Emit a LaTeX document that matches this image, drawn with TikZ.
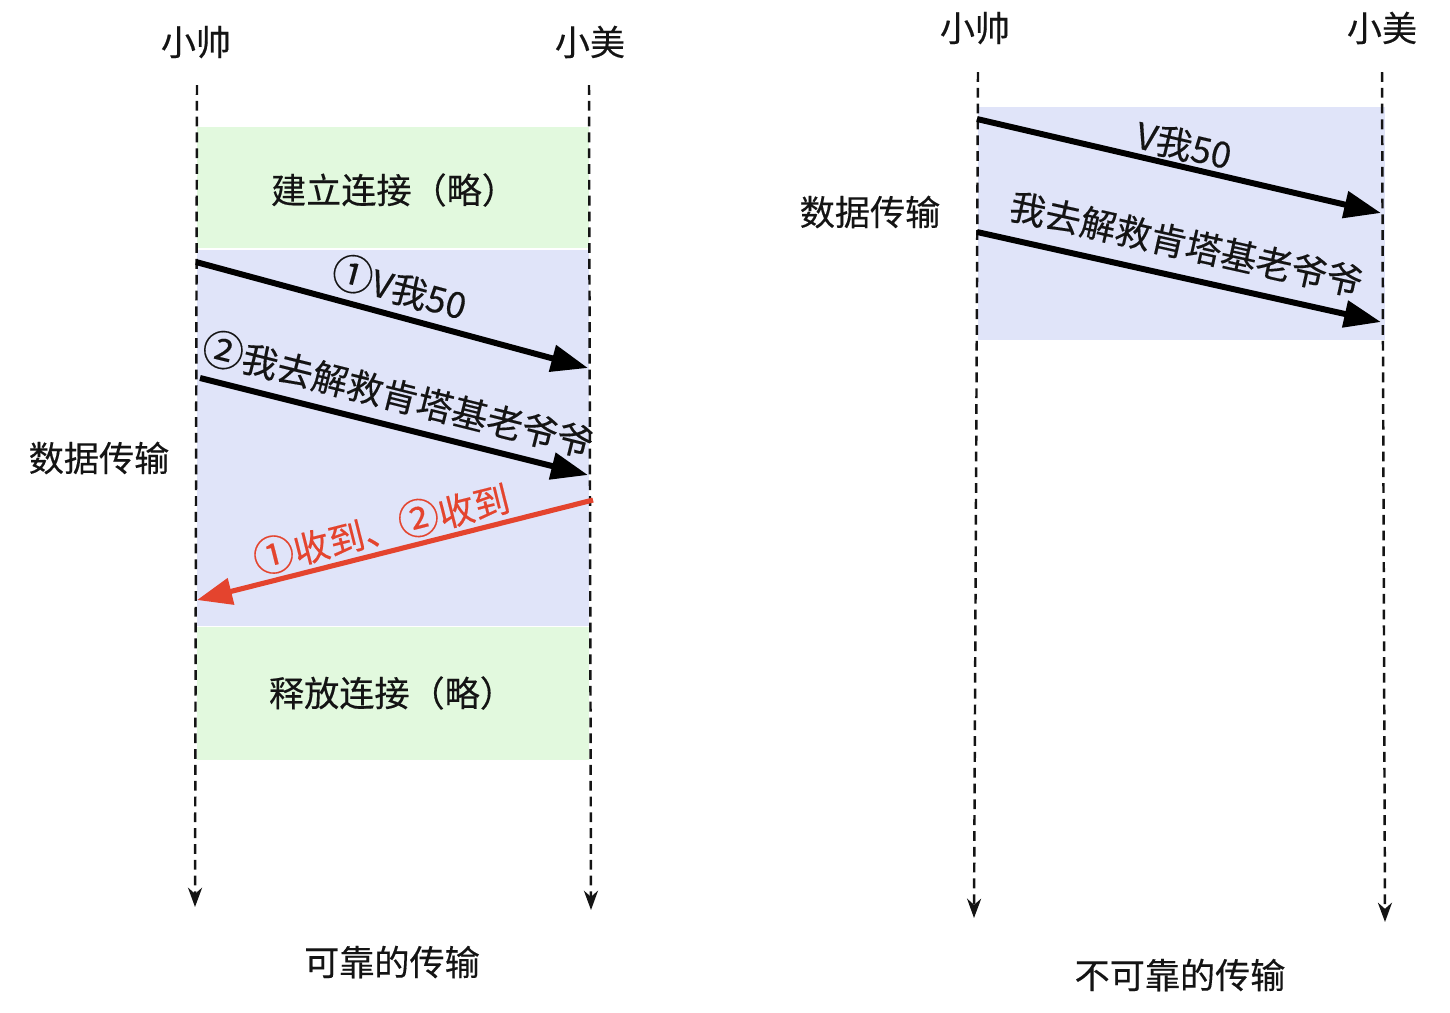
\documentclass[tikz,border=0pt]{standalone}
\usepackage{fontspec}
\setmainfont{Noto Sans CJK SC}[UprightFeatures={FakeBold=0.3}]
\usetikzlibrary{arrows.meta}
\definecolor{boxgreen}{RGB}{226,249,222}
\definecolor{boxblue}{RGB}{224,228,249}
\definecolor{ackred}{RGB}{228,68,46}
\definecolor{ink}{RGB}{20,20,20}
\newcommand{\cnum}[1]{{\fontsize{23.5pt}{24pt}\selectfont #1}}
\tikzset{
  txt/.style={inner sep=0pt, text=ink, font=\fontsize{20pt}{24pt}\selectfont},
  lifeline/.style={draw=ink, line width=1.4pt, dash pattern=on 5.6pt off 3.4pt, -{Stealth[length=11pt,width=8pt,inset=3.5pt]}},
  msg/.style={draw=black, line width=3.4pt, -{Triangle[length=21pt,width=15pt]}},
  ack/.style={draw=ackred, line width=2.9pt, -{Triangle[length=20pt,width=15pt]}},
  lbl/.style={sloped, inner sep=1pt, text=ink, font=\fontsize{20.5pt}{24pt}\selectfont},
}
\begin{document}
\begin{tikzpicture}[x=0.02cm, y=-0.02cm]
\useasboundingbox (0,0) rectangle (1450,1012);
% ---------- left: reliable ----------
\fill[boxgreen] (197,127) rectangle (589,248);
\fill[boxblue]  (197,250) rectangle (589,626);
\fill[boxgreen] (197,627) rectangle (589,760);

\node[txt] (ls) at (196,42) {小帅};
\node[txt] (lm) at (590,42) {小美};
\coordinate (lsT) at (197,85);
\coordinate (lsB) at (195,907);
\coordinate (lmT) at (589,85);
\coordinate (lmB) at (591,910);
\draw[lifeline] (lsT) -- (lsB);
\draw[lifeline] (lmT) -- (lmB);

\node[txt] (conn) at (394,190) {建立连接（略）};
\node[txt] (rel)  at (392,693) {释放连接（略）};
\node[txt] (ldata) at (99,458) {数据传输};
\node[txt] (ltitle) at (392,962) {可靠的传输};

\coordinate (a1s) at (196,262);
\coordinate (a1e) at (588,368);
\coordinate (a2s) at (200,378);
\coordinate (a2e) at (588,475);
\coordinate (cks) at (593,500);
\coordinate (cke) at (197,600);
\draw[msg] (a1s) -- node[lbl, above=3pt, pos=0.50] {\cnum{①}V我50} (a1e);
\draw[msg] (a2s) -- node[lbl, above=5pt, pos=0.49] {\cnum{②}我去解救肯塔基老爷爷} (a2e);
\draw[ack] (cks) -- node[lbl, above=1pt, pos=0.52, text=ackred] {\cnum{①}收到、\cnum{②}收到} (cke);

% ---------- right: unreliable ----------
\fill[boxblue] (978,107) rectangle (1385,340);
\node[txt] (rs) at (975,28) {小帅};
\node[txt] (rm) at (1382,28) {小美};
\coordinate (rsT) at (978,72);
\coordinate (rsB) at (974,918);
\coordinate (rmT) at (1382,72);
\coordinate (rmB) at (1385,922);
\draw[lifeline] (rsT) -- (rsB);
\draw[lifeline] (rmT) -- (rmB);

\node[txt] (rdata) at (870,212) {数据传输};
\node[txt] (rtitle) at (1180,975) {不可靠的传输};

\coordinate (b1s) at (977,119);
\coordinate (b1e) at (1381,213);
\coordinate (b2s) at (977,232);
\coordinate (b2e) at (1381,322);
\draw[msg] (b1s) -- node[lbl, above=0pt, pos=0.5] {V我50} (b1e);
\draw[msg] (b2s) -- node[lbl, above=7pt, pos=0.5] {我去解救肯塔基老爷爷} (b2e);
\end{tikzpicture}
\end{document}
